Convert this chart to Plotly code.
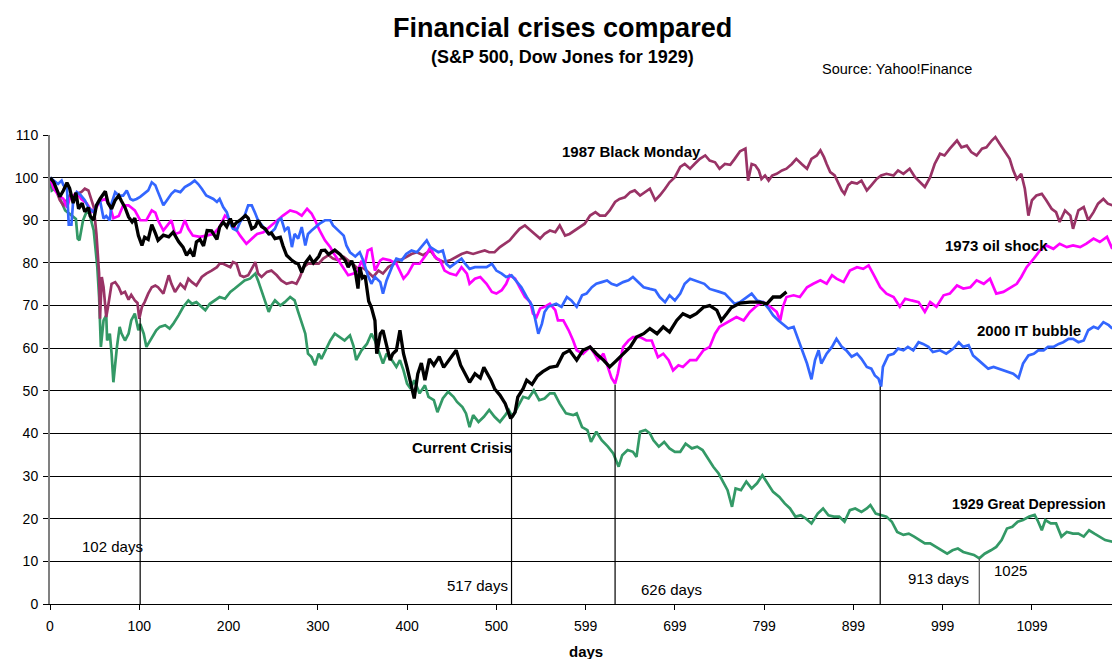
import plotly.graph_objects as go

# ---------------- data (day, index level; start = 100) ----------------
current_crisis = [
    (0,100),(4,99),(8,97),(11,95.5),(15,97),(19,98.8),(22,97.5),(26,94),(29,96.5),(32,92.7),
    (36,94),(39,92),(43,93),(45,91),(49,90),(52,93.5),(56,95),(62,96.8),(65,94),(69,92.7),
    (73,94.7),(77,95.8),(80,94.5),(84,93),(88,90.8),(92,89.6),(95,90.5),(99,86.4),(103,84.1),
    (106,86),(110,85.5),(114,89),(118,87),(121,85.3),(127,86.5),(133,86.1),(138,87.2),(144,85),
    (149,83.7),(153,81.8),(157,83),(161,81.5),(164,84.9),(168,85.5),(172,84),(176,87.6),
    (181,87.5),(187,85.5),(190,88.4),(194,89.6),(198,88.5),(202,90.4),(205,88.5),(209,89.5),
    (213,90),(219,91.1),(222,90.5),(226,88),(230,88.5),(233,90),(237,88.5),(241,88),(245,86.8),
    (248,87),(252,85.7),(258,86),(261,84),(265,81.8),(271,80.6),(275,80),(278,79.8),(282,77.8),
    (286,80),(291,81.4),(295,80),(301,81.5),(304,82.9),(308,83),(312,82),(316,82.5),(319,83),
    (325,82),(331,80.5),(334,79),(338,80.5),(342,78),(345,74),(347,79),(350,76.5),(353,77),
    (355,74.3),(357,71),(360,69.6),(364,66.5),(366,58.7),(370,63.4),(373,64.2),(377,60.3),
    (381,57.2),(384,58.7),(388,59.5),(392,64.2),(396,58.7),(400,55.5),(404,52),(408,48.2),
    (412,54),(416,56.5),(420,52.5),(425,57.5),(430,56),(436,58),(441,55.5),(448,57.5),(455,59.5),
    (460,56),(464,54.5),(470,52),(476,54),(482,53),(486,55.5),(490,54),(494,52.5),(498,50.5),
    (504,49),(510,47),(513,45),(516,43.5),(518,44),(521,45),(524,48.5),(530,50.5),(534,52.5),
    (540,51.5),(546,53.5),(552,54.5),(560,55.5),(568,55.8),(575,58.7),(582,59.5),(590,57.2),
    (597,59.5),(605,60.3),(612,58.7),(620,57.2),(627,55.6),(635,57.2),(642,58.7),(650,60.3),
    (657,62.6),(665,63.4),(672,64.6),(680,63.4),(687,65),(694,63.8),(702,66.5),(709,68.1),
    (717,67.3),(724,68.1),(732,69.6),(739,70),(747,68.9),(752,66.5),(758,68.1),(763,69.5),
    (773,70.6),(784,70.8),(795,70.8),(803,70.4),(810,72),(818,72),(825,73.2),
]

oil_shock_1973 = [
    (0,100),(4,97.5),(9,96),(15,95),(19,93),(22,95),(30,96.5),(35,95),(41,94),(47,92),(52,93),
    (56,94.5),(62,95),(67,93.5),(71,90.5),(77,91),(82,93.5),(88,93.5),(91,93),(95,92.3),(101,90),
    (108,90),(114,92.3),(118,91.8),(121,90),(127,87.6),(133,89.2),(136,90),(140,86.8),(146,87.2),
    (151,90),(155,88),(160,86.4),(168,86.1),(175,86.4),(183,86.8),(190,88.4),(196,91.1),(202,90),
    (207,88.4),(213,86.4),(220,84.5),(226,85.7),(232,86.8),(239,87.2),(246,88.4),(254,90),
    (261,91.1),(269,92.3),(276,91.9),(282,91.1),(288,92.7),(293,91.6),(297,90),(302,87.6),
    (308,85.3),(314,83.7),(317,82.5),(323,80.6),(329,78.6),(334,77.1),(340,77.5),(345,78.3),
    (349,80.5),(352,79),(356,82.9),(360,83.3),(364,78.2),(370,80.6),(373,81),(381,80.6),
    (388,79.8),(396,76.3),(401,77.5),(407,79.8),(414,79.8),(422,82.1),(426,83.7),(431,81.4),
    (437,80.6),(442,78.2),(448,77.5),(455,77.1),(461,79),(467,77.5),(470,75.1),(476,76.3),
    (482,76.7),(489,75.1),(495,73.2),(500,72.8),(506,73.6),(511,75.1),(515,77.1),(521,76.3),
    (526,74.3),(532,72),(538,70.8),(541,68.1),(545,67.3),(549,69.3),(554,69.7),(560,70.4),
    (566,68.9),(569,66.5),(575,66.5),(581,64.2),(586,61.8),(590,59.5),(597,58.7),(605,60.3),
    (610,58.7),(614,57.2),(620,58.7),(625,55.6),(629,53),(633,51.7),(636,54),(639,57.2),
    (642,60.3),(648,61.8),(653,62.6),(661,62.6),(668,61.8),(674,61.8),(678,59.5),(681,57.9),
    (687,58.7),(693,57.2),(698,54.8),(704,56),(709,55.6),(717,57.2),(724,57.2),(732,59.5),
    (739,60.3),(745,63.4),(750,65),(756,65.7),(762,66.5),(769,67.3),(777,66.5),(784,68.5),
    (792,70),(799,70.8),(807,69.7),(814,68.5),(818,66.5),(821,69.7),(825,72),(833,72.4),
    (840,72),(848,74.3),(855,75.1),(863,75.9),(870,75.1),(876,77.1),(881,76.3),(889,75.5),
    (896,78.2),(904,79),(911,78.6),(917,79.4),(922,77.5),(930,74.3),(937,72.8),(945,72),
    (952,69.7),(958,71.6),(965,71.2),(973,70.8),(980,68.5),(986,70.8),(993,69.7),(1001,72.4),
    (1008,72.8),(1016,74.7),(1023,74),(1031,74.3),(1038,75.9),(1046,75.1),(1053,76.3),
    (1060,72.8),(1068,73.2),(1075,74),(1083,75.1),(1088,76.7),(1094,79),(1102,81),(1109,82.9),
    (1116,84.1),(1124,83.3),(1131,84.5),(1139,83.7),(1146,84.1),(1154,83.7),(1161,84.5),
    (1169,85.7),(1176,84.9),(1184,86.1),(1190,83.3),
]

it_bubble_2000 = [
    (0,100),(4,99.3),(9,98.5),(13,99.3),(15,98.2),(19,97.5),(21,89),(24,89),(26,94.7),(30,96.6),
    (34,96),(39,94.7),(43,93),(49,91.9),(52,93.5),(56,94.7),(60,90.4),(63,91),(67,90),(69,94),
    (73,96.6),(77,95.8),(82,95.8),(86,97),(90,95),(93,94.7),(97,95),(101,95.5),(105,96.2),
    (110,97),(114,98.9),(118,98.2),(121,96.6),(127,93.5),(131,94.7),(136,96.2),(140,97),
    (146,96.6),(151,97.8),(157,98.5),(162,99.3),(166,98.5),(170,97.4),(175,95.8),(183,95),
    (187,94.3),(190,95),(194,93.1),(198,91.9),(202,89.2),(205,88),(209,87.6),(213,89.6),
    (218,91.1),(222,93.5),(226,93.5),(230,91.6),(233,90),(239,88.4),(243,87.2),(246,86.8),
    (252,88),(256,90),(259,90.4),(263,87.6),(267,88.4),(271,83.7),(274,86.8),(278,85.7),
    (282,88.4),(286,84.1),(289,86.8),(293,87.6),(297,88.4),(302,89.2),(308,90),(314,90),
    (317,88.8),(323,87.6),(329,86.4),(332,84.1),(336,82.5),(342,81.5),(347,82.5),(351,80.5),
    (356,77.1),(360,75.1),(364,76.7),(370,75.5),(373,72.8),(377,75.9),(383,79),(388,81),
    (394,80.6),(399,82.1),(405,82.9),(411,82.5),(416,83.7),(422,85.3),(426,83.7),(429,83.3),
    (435,82.5),(440,82.9),(444,79.8),(448,79),(455,80.2),(461,81),(465,79.8),(470,78.6),
    (476,79),(482,79),(489,79),(495,79.8),(500,78.2),(506,77.5),(511,76.7),(517,77.1),
    (523,75.5),(528,74.3),(534,72),(540,70),(543,67.3),(547,63.4),(551,65.7),(554,68.5),
    (558,69.7),(562,70),(567,70.4),(573,69.7),(579,72),(584,71.2),(590,69.7),(596,72.4),
    (601,72.8),(607,74.3),(612,75.1),(618,75.5),(624,75.9),(629,75.1),(635,74.7),(642,75.5),
    (648,75.9),(653,76.7),(659,75.5),(665,74.3),(672,73.9),(678,73.6),(683,72),(689,70.8),
    (694,72.4),(700,71.2),(706,72.8),(711,75.1),(717,76.3),(722,75.9),(728,75.5),(733,75.1),
    (739,73.9),(745,73.6),(750,73.2),(756,72.8),(762,71.5),(767,70.4),(773,70.8),(780,72),
    (786,72.8),(792,71.2),(799,70.8),(805,69.3),(810,67.7),(816,66.5),(821,65.7),(827,64.6),
    (833,65),(836,63.4),(840,61),(844,58.7),(848,56.4),(853,52.7),(857,57.2),(861,59.5),
    (864,56.4),(870,58.7),(876,60.3),(881,62.2),(887,60.3),(892,59.5),(898,58),(904,58.7),
    (909,57.5),(915,55.6),(920,55.2),(924,53.6),(928,52.9),(931,51),(933,55.6),(939,58.3),
    (945,58.7),(950,59.9),(956,59.5),(961,60.3),(967,59.5),(973,61.4),(978,61),(984,60.3),
    (989,59.1),(997,59.5),(1004,58.7),(1012,59.9),(1018,61.4),(1023,60.3),(1029,60.7),
    (1034,58.3),(1040,57.2),(1046,56),(1051,55.2),(1057,55.6),(1062,55.2),(1068,54.8),
    (1074,54.4),(1079,54),(1085,53),(1090,56.4),(1096,58.3),(1102,58.7),(1107,59.5),(1113,59.5),
    (1118,60.3),(1124,60.3),(1130,61),(1135,61.4),(1141,62.2),(1146,62.2),(1152,61.4),
    (1158,61.8),(1163,64.2),(1169,65),(1174,64.6),(1180,66.1),(1186,65.4),(1190,64.6),
]

black_monday_1987 = [
    (0,100),(4,98.6),(7,97),(11,94.7),(15,93.5),(19,94.7),(22,95.8),(26,95),(30,96.2),(35,96.6),
    (39,97.4),(43,97),(47,94.7),(49,93.1),(52,86.8),(53,83.7),(55,77.5),(56,66.9),(58,76.7),
    (60,74.3),(63,67.3),(65,69.7),(69,75.1),(73,75.5),(77,74.3),(80,72.8),(84,73.2),(88,71.4),
    (91,72.5),(95,71.2),(98,70.6),(100,66.9),(103,69.7),(106,70.8),(110,72.8),(114,74.3),
    (118,74.7),(121,74.3),(127,72.8),(133,77.1),(136,75.1),(140,73.2),(146,75.1),(151,74),
    (155,76.3),(159,75.5),(164,74.7),(170,76.7),(175,77.5),(181,78.2),(187,79),(190,79.8),
    (194,79.8),(198,79.4),(202,79),(205,80.2),(209,79.8),(213,77.1),(217,76.7),(222,77.1),
    (226,78.6),(230,80.2),(233,77.5),(237,76.7),(243,77.9),(248,78.2),(254,77.1),(259,75.9),
    (265,75.1),(271,75.5),(276,75.1),(280,76.7),(284,79),(289,79.8),(295,79.8),(301,79.8),
    (306,81),(312,81.8),(317,81),(323,80.6),(329,81.4),(334,80.6),(340,79.6),(345,78.6),
    (351,78.8),(356,77.9),(362,76.7),(368,78.2),(373,77.5),(379,79),(385,79.8),(392,80.6),
    (399,81.4),(405,82.1),(411,82.5),(418,81.8),(426,82.9),(433,81),(441,80.2),(448,80.6),
    (455,81.4),(461,82.1),(467,82.5),(474,82.1),(480,82.5),(487,82.9),(492,82.5),(498,82.5),
    (504,83.7),(510,84.5),(515,85.3),(521,86.8),(526,88),(532,88.8),(538,87.6),(543,86.8),
    (549,85.7),(554,86.8),(560,87.6),(566,87.2),(571,88.8),(577,86.4),(582,86.8),(588,87.6),
    (594,88.4),(599,89.2),(605,91.1),(611,91.9),(616,91.1),(622,91.1),(627,92.3),(633,94.3),
    (638,95),(644,95.4),(650,96.6),(655,97),(661,95.8),(666,96.6),(672,97.4),(678,94.7),
    (683,95.8),(689,97.4),(694,98.9),(700,100.1),(706,102.5),(711,103.2),(717,102.1),
    (722,103.2),(728,104.4),(734,105.2),(739,104),(745,103.6),(750,102.1),(756,103.2),
    (762,103),(767,104.4),(773,106.2),(779,106.8),(782,99.3),(786,103.2),(790,102.9),
    (794,101.7),(797,99.7),(801,100.5),(805,99.3),(809,100.5),(814,100.9),(820,101.7),
    (825,102.1),(831,103.2),(836,104.4),(842,103.2),(848,102.1),(853,104.4),(859,105.2),
    (863,106.4),(867,104.8),(870,103.2),(874,101.3),(879,100.5),(883,98.9),(887,97),(890,96.2),
    (894,98.2),(898,98.9),(904,98.6),(909,99.3),(915,97),(920,98.2),(926,99.7),(931,100.5),
    (937,100.9),(945,100.5),(950,101.7),(956,100.9),(963,102.1),(969,100.1),(975,98.9),
    (980,97.8),(986,100.1),(991,103.2),(997,105.6),(1002,105.2),(1008,106.8),(1016,108.7),
    (1021,107.1),(1027,107.5),(1032,106),(1038,105.2),(1044,106.8),(1049,107.1),(1055,108.7),
    (1059,109.5),(1064,107.9),(1070,106),(1075,104.4),(1079,101.7),(1083,99.7),(1088,100.9),
    (1092,97.4),(1096,91.1),(1100,94.7),(1105,95.8),(1111,96.2),(1116,94.7),(1122,92.7),
    (1127,91.9),(1131,89.6),(1137,92.3),(1143,91.1),(1146,88),(1152,92.3),(1158,93.1),
    (1163,90),(1169,91.9),(1174,93.9),(1180,95),(1185,93.9),(1190,93.5),
]

great_depression_1929 = [
    (0,100),(2,97),(6,97.5),(9,96),(13,94),(17,92.3),(22,91.5),(26,90.7),(29,90.3),(31,85.7),
    (33,85.3),(37,90),(40,91.5),(44,92.3),(46,90),(49,87.6),(51,83.7),(53,79),(55,72),(57,60.3),
    (60,66.5),(63,67.7),(64,61.8),(67,63.4),(69,58.7),(71,52),(75,60.3),(78,65),(80,63.5),
    (84,61.8),(88,63.4),(91,66.5),(95,68.1),(99,64.2),(101,65.7),(105,63.4),(108,60.3),
    (112,61.8),(116,63.4),(119,64.2),(123,65),(129,65.4),(134,64.6),(138,65.7),(144,67.7),
    (149,69.6),(155,71.2),(159,70.4),(164,70.8),(170,69.6),(174,68.9),(179,70.4),(185,71.2),
    (190,72),(196,71.6),(202,73.2),(207,74),(213,75.1),(218,75.9),(224,76.3),(230,77.5),
    (233,75.9),(237,73.6),(241,71.2),(245,68.5),(248,70),(252,71.2),(258,70),(263,70.8),
    (269,72),(274,71.2),(278,68.5),(282,65.7),(286,63.4),(289,58.7),(293,57.9),(297,56),
    (301,58.7),(304,57.5),(308,59.1),(314,61.8),(319,63.4),(325,62.6),(330,61.8),(336,63),
    (340,60.5),(343,57.2),(349,59.5),(355,61),(360,63.4),(364,61.8),(369,58.7),(373,56.4),
    (377,58.7),(383,57.2),(388,55.6),(392,57.2),(396,54.8),(400,51.7),(404,50.5),(408,52.5),
    (414,49.4),(420,51.3),(424,48.6),(430,47.8),(434,45),(440,48.2),(446,49.8),(452,48.6),
    (456,47.4),(462,46.2),(466,44.7),(470,41.5),(474,44.3),(480,42.7),(486,43.9),(492,45.5),
    (498,43.9),(504,42.7),(510,44.3),(514,45.5),(518,43.9),(524,46.2),(530,48.6),(536,48.2),
    (542,50.1),(548,47.8),(554,48.2),(560,49.4),(565,49.4),(571,47),(578,44.7),(586,44.3),
    (590,44.7),(596,41.5),(602,40.8),(606,38),(612,40.4),(618,38.4),(625,36.9),(631,35.3),
    (637,32.2),(641,34.9),(647,36.1),(653,35.7),(657,34.5),(661,40.4),(667,40.8),(672,40),
    (676,38.4),(682,36.9),(688,38),(694,36.5),(700,35.7),(706,35.7),(712,37.6),(719,36.5),
    (725,36.9),(731,36.1),(737,34.1),(743,32.2),(749,30.6),(753,29),(759,26.7),(764,22.8),
    (768,27.1),(774,26.7),(780,28.7),(786,27.1),(792,28.3),(798,30.2),(804,28.3),(810,26.3),
    (817,25.1),(823,23.6),(829,22.4),(835,20.5),(841,20.8),(847,20),(853,18.9),(860,21.2),
    (866,22.4),(872,20.8),(878,20.5),(884,20.5),(890,19.3),(896,22),(902,22.4),(909,21.6),
    (915,22.4),(919,23.2),(925,21.2),(931,20.8),(937,20.5),(943,19.3),(949,16.9),(956,16.2),
    (962,16.5),(968,15.8),(974,15),(980,14.2),(986,14.2),(992,13.4),(998,12.6),(1005,11.8),
    (1011,12.6),(1017,13),(1023,12.2),(1029,11.8),(1035,11.5),(1041,10.7),(1047,11.8),
    (1054,12.6),(1060,13.4),(1066,15),(1072,17.7),(1078,18.1),(1084,19.3),(1090,19.7),
    (1097,20.5),(1103,20.9),(1107,19.3),(1111,17.3),(1115,19.7),(1121,18.9),(1127,18.9),
    (1133,15.8),(1139,16.9),(1146,16.5),(1152,16.5),(1158,15.8),(1164,17.3),(1170,16.5),
    (1176,15.8),(1182,15),(1190,14.6),
]

# x tick labels (category-style labels of the original)
tick_positions = [0, 100, 200, 300, 400, 500, 600, 700, 800, 900, 1000, 1100]
tick_labels = ["0", "100", "200", "300", "400", "500", "599", "699", "799", "899", "999", "1099"]

# trough markers: position on the axis, height of the line, label
marker_x = [101, 517, 633, 930, 1041]
marker_top = [67, 43.5, 51.5, 51, 10.7]
marker_labels = ["102 days", "517 days", "626 days", "913 days", "1025"]

series_names = ["1929 Great Depression", "1987 Black Monday", "1973 oil shock",
                "2000 IT bubble", "Current Crisis"]
series_data = [great_depression_1929, black_monday_1987, oil_shock_1973,
               it_bubble_2000, current_crisis]
series_colors = ["#339966", "#993366", "#FF00FF", "#3366FF", "#000000"]
series_widths = [2.7, 2.7, 2.7, 2.7, 3.3]

# ---------------- figure ----------------
W, H = 1112, 659
ML, MR, MT, MB = 50, 0, 135, 55
PW, PH = W - ML - MR, H - MT - MB
XMAX = PW / 0.8927

def px(x):
    return (x - ML) / PW

def py(y):
    return (H - MB - y) / PH

fig = go.Figure()
for name, data, col, w in zip(series_names, series_data, series_colors, series_widths):
    xs = [d for d, v in data]
    ys = [v for d, v in data]
    fig.add_trace(go.Scatter(x=xs, y=ys, mode="lines", name=name,
                             line=dict(color=col, width=w), hoverinfo="skip"))

for mx, mt in zip(marker_x, marker_top):
    fig.add_shape(type="line", xref="x", yref="y", x0=mx, x1=mx, y0=0, y1=mt,
                  line=dict(color="#000000" if mx != marker_x[-1] else "#555555", width=1.2),
                  layer="above")

FONT = "Liberation Sans, Arial, sans-serif"
ann = []

def add_text(text, x, y, size, xanchor="center"):
    ann.append(dict(text=text, x=px(x), y=py(y), xref="paper", yref="paper",
                    xanchor=xanchor, yanchor="middle", showarrow=False,
                    font=dict(size=size, color="black", family=FONT)))

# titles
add_text("<b>Financial crises compared</b>", 562, 28, 27)
add_text("<b>(S&P 500, Dow Jones for 1929)</b>", 562, 57, 18)
add_text("Source: Yahoo!Finance", 897, 69, 14.5)
add_text("<b>days</b>", 586, 651, 15)

# series labels (anchored at left edge)
series_label_pos = [("1987 Black Monday", 560, 151, 15), ("1973 oil shock", 943, 245, 15),
                    ("2000 IT bubble", 975, 330, 15), ("Current Crisis", 410, 447, 15),
                    ("1929 Great Depression", 950, 504, 14.2)]
for t, lx, ly, fs in series_label_pos:
    add_text("<b>%s</b>" % t, lx, ly, fs, xanchor="left")

# trough day labels
day_label_pos = [(80, 546), (445, 585), (639, 589), (906, 578), (992, 570)]
for t, (lx, ly) in zip(marker_labels, day_label_pos):
    add_text(t, lx, ly, 15, xanchor="left")

fig.update_layout(
    width=W, height=H, autosize=False,
    margin=dict(l=ML, r=MR, t=MT, b=MB, pad=0),
    paper_bgcolor="white", plot_bgcolor="white",
    showlegend=False,
    font=dict(family=FONT, size=14, color="black"),
    annotations=ann,
    xaxis=dict(range=[0, XMAX], tickvals=tick_positions, ticktext=tick_labels,
               ticks="outside", ticklen=5, tickcolor="black", tickwidth=1,
               ticklabelstandoff=4,
               showgrid=False, zeroline=False, showline=True, linecolor="black", linewidth=1,
               tickfont=dict(size=14, color="black"), fixedrange=True),
    yaxis=dict(range=[0, 110], dtick=10, tick0=0,
               ticks="outside", ticklen=5, tickcolor="black", tickwidth=1,
               ticklabelstandoff=2,
               showgrid=True, gridcolor="black", gridwidth=1,
               zeroline=False, showline=True, linecolor="#808080", linewidth=2,
               tickfont=dict(size=14, color="black"), fixedrange=True),
)

fig.write_html("out.html", config={"displayModeBar": False},
               post_script="document.body.style.margin='0px';document.body.style.overflow='hidden';")
